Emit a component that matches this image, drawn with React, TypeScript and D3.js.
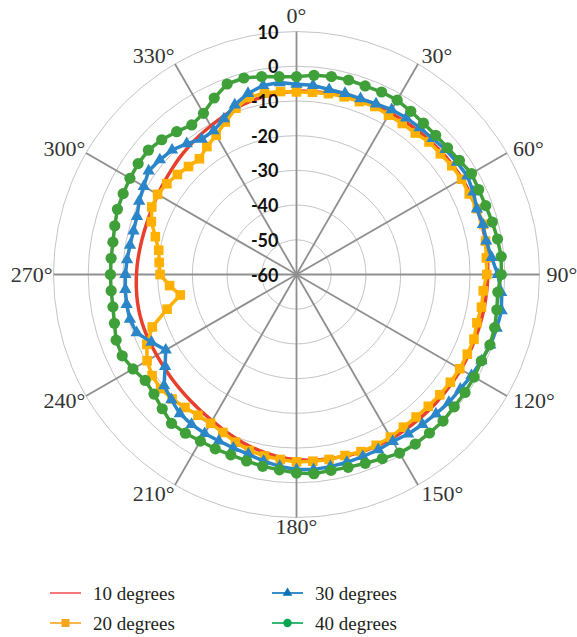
import React, { useEffect, useRef } from 'react';
import * as d3 from 'd3';

// azimuth of each sample, degrees clockwise from the top
const angles = [
  0, 5, 10, 15, 20, 25, 30, 35, 40, 45, 50, 55, 60, 65, 70, 75, 80, 85,
  90, 95, 100, 105, 110, 115, 120, 125, 130, 135, 140, 145, 150, 155, 160, 165, 170, 175,
  180, 185, 190, 195, 200, 205, 210, 215, 220, 225, 230, 235, 240, 245, 250, 255, 260, 265,
  270, 275, 280, 285, 290, 295, 300, 305, 310, 315, 320, 325, 330, 335, 340, 345, 350, 355,
];

const deg10 = [
  -7.2, -7.1, -7, -6.8, -6.6, -6.4, -6.2, -6, -5.8, -5.6, -5.3, -5.1, -4.9, -4.8, -4.7, -4.7, -4.7, -4.8,
  -4.9, -5, -5.1, -5.2, -5.3, -5.3, -5.3, -5.4, -5.4, -5.4, -5.4, -5.4, -5.4, -5.5, -5.6, -5.9, -6.1, -6.3,
  -6.7, -7.2, -7.9, -8.7, -9.6, -10.5, -11.4, -12, -12.5, -12.9, -13.2, -13.4, -13.5, -13.5, -13.4, -13.4, -13.5, -13.7,
  -13.9, -14.1, -14.3, -14.4, -14.4, -14.2, -13.9, -13.5, -13, -12.4, -11.8, -11.2, -10.6, -9.8, -9, -8.4, -7.9, -7.5,
];

const deg20 = [
  -7.4, -7.3, -7.1, -7, -7, -6.6, -7, -6.9, -6.8, -6, -5.9, -5.4, -5.1, -5.1, -4.6, -4.2, -4.7, -5.1,
  -5.2, -6, -5.9, -6.2, -5.6, -5.7, -5.7, -5.9, -6.1, -6.3, -6.4, -6.3, -5.9, -5.7, -5.7, -6, -5.9, -6,
  -6, -6.5, -6.9, -7.5, -8.6, -9.8, -10.5, -10.5, -10, -9.3, -8.9, -9.2, -10.3, -12.4, -15.8, -21.4, -26, -23.3,
  -20.7, -20.3, -19.7, -17.9, -15.5, -14, -13.8, -14.4, -15.2, -16, -16.5, -15, -13.7, -11.5, -9, -7.2, -6.9, -7.1,
];

const deg30 = [
  -5.2, -5.3, -5.9, -6, -6.1, -5.8, -5.2, -4.9, -4.8, -4.6, -4, -3.6, -3.2, -3.8, -4.7, -4.4, -4.5, -3.6,
  -2, -0.8, 0, -0.3, -0.6, -1.2, -1.8, -2.4, -2.7, -3.2, -3.6, -3.9, -4.5, -4.3, -4.2, -4, -3.8, -3.6,
  -3.8, -4.5, -5.4, -6.4, -6.8, -7.1, -7.1, -7.3, -7.7, -9, -10.2, -13.8, -16.5, -13.9, -11, -10.3, -10.3, -10.5,
  -10.7, -11, -11.3, -11.4, -11.1, -10, -9.2, -8, -8.6, -9.3, -10.8, -12.4, -12.2, -10.5, -8, -6, -4.7, -4.5,
];

const deg40 = [
  -3, -2.4, -2.1, -2, -2.2, -2, -2, -2.6, -3.1, -3.3, -3.2, -2.7, -1.8, -2.1, -2, -1.6, -1.2, -0.8,
  -1, -1.8, -1.4, -0.9, -0.7, -1.2, -0.9, -0.75, -0.7, -0.3, -0.4, -0.35, -0.6, -1.5, -2.1, -2.5, -2.7, -2.4,
  -2.8, -3.5, -3.9, -4.4, -4.7, -4.6, -4.6, -4.2, -4, -5.3, -6.4, -6.8, -5.6, -4.6, -4.7, -5.7, -6.3, -6.4,
  -6.4, -6.4, -6.3, -5.8, -5.1, -4.9, -4.6, -4.3, -4.3, -5.1, -6.3, -7.4, -6.4, -3.9, -1.6, -1.4, -2.1, -2.8,
];

const radialTicks = [10, 0, -10, -20, -30, -40, -50, -60];
const spokeAngles = [0, 30, 60, 90, 120, 150, 180, 210, 240, 270, 300, 330];
const spokeLabels = ['0°', '30°', '60°', '90°', '120°', '150°', '180°', '210°', '240°', '270°', '300°', '330°'];
const seriesNames = ['10 degrees', '20 degrees', '30 degrees', '40 degrees'];

const W = 577;
const H = 637;
const cx = 296.5;
const cy = 274.5;
const R = 243;

export default function App() {
  const ref = useRef<SVGSVGElement>(null);

  useEffect(() => {
    const svg = d3.select(ref.current);
    svg.selectAll('*').remove();

    const r = d3.scaleLinear().domain([-60, 10]).range([0, R]);
    const rad = (a: number) => (a * Math.PI) / 180;

    const g = svg.append('g').attr('transform', `translate(${cx},${cy})`);

    // rings
    g.selectAll('circle.ring')
      .data(radialTicks.filter(t => t > -60))
      .join('circle')
      .attr('class', 'ring')
      .attr('r', d => r(d))
      .attr('fill', 'none')
      .attr('stroke', '#c4c4c4')
      .attr('stroke-width', 1);

    // spokes
    g.selectAll('line.spoke')
      .data(spokeAngles)
      .join('line')
      .attr('class', 'spoke')
      .attr('x1', 0)
      .attr('y1', 0)
      .attr('x2', d => R * Math.sin(rad(d)))
      .attr('y2', d => -R * Math.cos(rad(d)))
      .attr('stroke', '#8f8f8f')
      .attr('stroke-width', 1.8);

    const series = [
      { values: deg10, color: '#e8402c', marker: 'none', curve: d3.curveCatmullRomClosed },
      { values: deg20, color: '#ffb000', marker: 'square', curve: d3.curveLinearClosed },
      { values: deg30, color: '#2b86c9', marker: 'triangle', curve: d3.curveLinearClosed },
      { values: deg40, color: '#3fa03a', marker: 'circle', curve: d3.curveLinearClosed },
    ];

    series.forEach(s => {
      const line = d3
        .lineRadial<number>()
        .angle((_, i) => rad(angles[i]))
        .radius(d => r(d))
        .curve(s.curve);

      g.append('path')
        .attr('d', line(s.values))
        .attr('fill', 'none')
        .attr('stroke', s.color)
        .attr('stroke-width', 3.5)
        .attr('stroke-linejoin', 'round');

      const pts = s.values.map((v, i) => [r(v) * Math.sin(rad(angles[i])), -r(v) * Math.cos(rad(angles[i]))]);
      if (s.marker === 'square') {
        g.selectAll(null).data(pts).join('rect')
          .attr('x', d => d[0] - 4.8).attr('y', d => d[1] - 4.8)
          .attr('width', 9.6).attr('height', 9.6)
          .attr('fill', s.color);
      } else if (s.marker === 'triangle') {
        const tri = d3.symbol().type(d3.symbolTriangle).size(66);
        g.selectAll(null).data(pts).join('path')
          .attr('d', tri()!)
          .attr('transform', d => `translate(${d[0]},${d[1]})`)
          .attr('fill', s.color);
      } else if (s.marker === 'circle') {
        g.selectAll(null).data(pts).join('circle')
          .attr('cx', d => d[0]).attr('cy', d => d[1]).attr('r', 5.6)
          .attr('fill', s.color);
      }
    });

    // radial value labels
    g.selectAll('text.tick')
      .data(radialTicks)
      .join('text')
      .attr('class', 'tick')
      .attr('x', -18)
      .attr('y', d => -r(d))
      .attr('text-anchor', 'end')
      .attr('dominant-baseline', 'central')
      .attr('font-family', 'Lato, sans-serif')
      .attr('font-weight', 'bold')
      .attr('font-size', 18)
      .attr('fill', '#111')
      .text(d => String(d));

    // angle labels
    g.selectAll('text.ang')
      .data(spokeAngles)
      .join('text')
      .attr('class', 'ang')
      .attr('x', d => {
        const s = Math.sin(rad(d));
        if (Math.abs(s) < 0.01) return 0;
        return s > 0 ? (R + 7) * s : (R + 1) * s;
      })
      .attr('y', d => {
        const c = Math.cos(rad(d));
        if (c > 0.99) return -R - 16.5;
        if (c < -0.99) return R + 9;
        return -(R + 6) * c - 3.5 * c;
      })
      .attr('text-anchor', d => {
        const s = Math.sin(rad(d));
        if (Math.abs(s) < 0.01) return 'middle';
        return s > 0 ? 'start' : 'end';
      })
      .attr('dominant-baseline', 'central')
      .attr('font-family', '"Liberation Serif", serif')
      .attr('font-size', 22)
      .attr('fill', '#333')
      .text((_, i) => spokeLabels[i]);

    // legend
    const legendItems = [
      { name: seriesNames[0], color: '#ee1d23', marker: 'none', x: 50, y: 593 },
      { name: seriesNames[1], color: '#f9a51b', marker: 'square', x: 50, y: 623 },
      { name: seriesNames[2], color: '#0a70b9', marker: 'triangle', x: 272, y: 593 },
      { name: seriesNames[3], color: '#00a651', marker: 'circle', x: 272, y: 623 },
    ];
    const lg = svg.append('g');
    legendItems.forEach(it => {
      lg.append('line')
        .attr('x1', it.x).attr('x2', it.x + 31)
        .attr('y1', it.y).attr('y2', it.y)
        .attr('stroke', it.color)
        .attr('stroke-width', it.marker === 'none' ? 1.2 : 1.6);
      const mx = it.x + 15.5;
      if (it.marker === 'square') {
        lg.append('rect').attr('x', mx - 4).attr('y', it.y - 4).attr('width', 8).attr('height', 8).attr('fill', it.color);
      } else if (it.marker === 'triangle') {
        lg.append('path').attr('d', d3.symbol().type(d3.symbolTriangle).size(40)()!)
          .attr('transform', `translate(${mx},${it.y})`).attr('fill', it.color);
      } else if (it.marker === 'circle') {
        lg.append('circle').attr('cx', mx).attr('cy', it.y).attr('r', 4.2).attr('fill', it.color);
      }
      lg.append('text')
        .attr('x', it.x + 43)
        .attr('y', it.y)
        .attr('dominant-baseline', 'central')
        .attr('font-family', '"Liberation Serif", serif')
        .attr('font-size', 19)
        .attr('fill', '#231f20')
        .text(it.name);
    });
  }, []);

  return (
    <svg
      ref={ref}
      width={W}
      height={H}
      style={{ position: 'absolute', left: 0, top: 0, background: '#fff' }}
    />
  );
}
